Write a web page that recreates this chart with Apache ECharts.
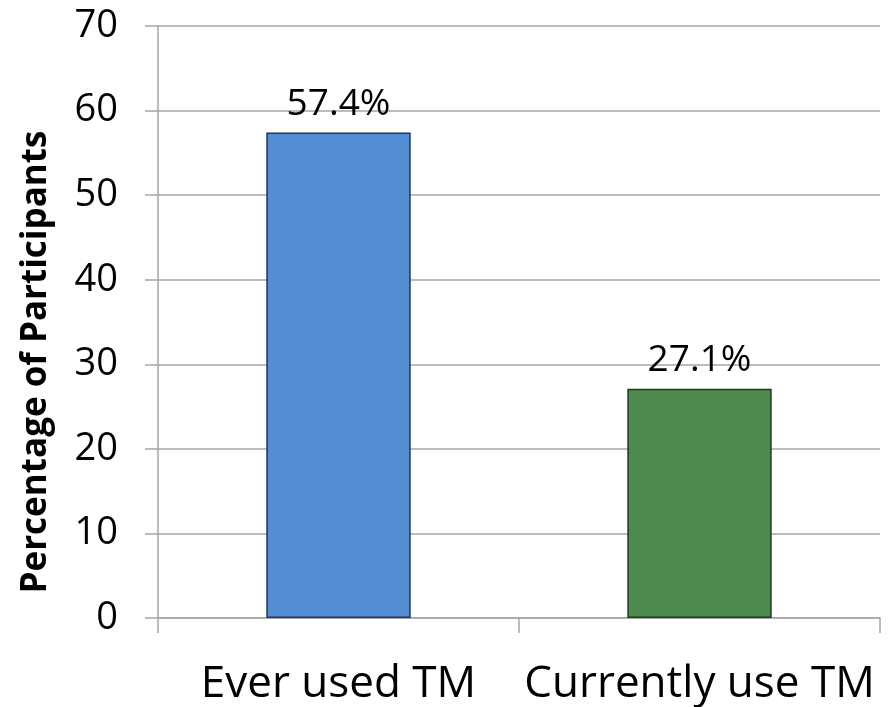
<!DOCTYPE html>
<html>
<head>
<meta charset="utf-8">
<script src="https://cdn.jsdelivr.net/npm/echarts@6/dist/echarts.min.js"></script>
<style>
  html, body { margin: 0; padding: 0; background: #fff; }
  #chart { width: 894px; height: 707px; }
</style>
</head>
<body>
<div id="chart"></div>
<script>
// Share of participants using traditional medicine (TM)
const categories = ['Ever used TM', 'Currently use TM'];
const values = [57.4, 27.1];
const barColors = ['#558ED5', '#4E8A4E'];
const barBorders = ['#1F3556', '#1E3A1E'];
const yTicks = { min: 0, max: 70, interval: 10 };

const chart = echarts.init(document.getElementById('chart'), null, { renderer: 'canvas' });
const font = '"Open Sans", "DejaVu Sans", sans-serif';
const gridColor = '#A6A6A6';

chart.setOption({
  backgroundColor: '#ffffff',
  animation: false,
  grid: { left: 158, right: 14, top: 26, bottom: 89, containLabel: false },
  xAxis: {
    type: 'category',
    data: categories,
    axisLine: { show: true, lineStyle: { color: gridColor, width: 1.5 } },
    axisTick: { show: true, length: 15, alignWithLabel: false, lineStyle: { color: gridColor, width: 1.5 } },
    axisLabel: { color: '#000', fontFamily: font, fontSize: 44, margin: 44, interval: 0 },
    splitLine: { show: false }
  },
  yAxis: {
    type: 'value',
    min: yTicks.min,
    max: yTicks.max,
    interval: yTicks.interval,
    name: 'Percentage of Participants',
    nameLocation: 'middle',
    nameGap: 104,
    nameTextStyle: { color: '#000', fontFamily: font, fontSize: 35, fontWeight: 'bold', padding: [0, 0, 0, -80] },
    axisLine: { show: true, lineStyle: { color: gridColor, width: 1.5 } },
    axisTick: { show: true, length: 13, lineStyle: { color: gridColor, width: 1.5 } },
    axisLabel: { color: '#000', fontFamily: font, fontSize: 38, margin: 40 },
    splitLine: { show: true, lineStyle: { color: gridColor, width: 1.5 } }
  },
  series: [{
    type: 'bar',
    barWidth: '40%',
    data: values.map((v, i) => ({
      value: v,
      itemStyle: { color: barColors[i], borderColor: barBorders[i], borderWidth: 1.5 }
    })),
    label: {
      show: true,
      position: 'top',
      distance: 10,
      color: '#000',
      fontFamily: font,
      fontSize: 37,
      formatter: p => p.value.toFixed(1) + '%'
    }
  }]
});
</script>
</body>
</html>
